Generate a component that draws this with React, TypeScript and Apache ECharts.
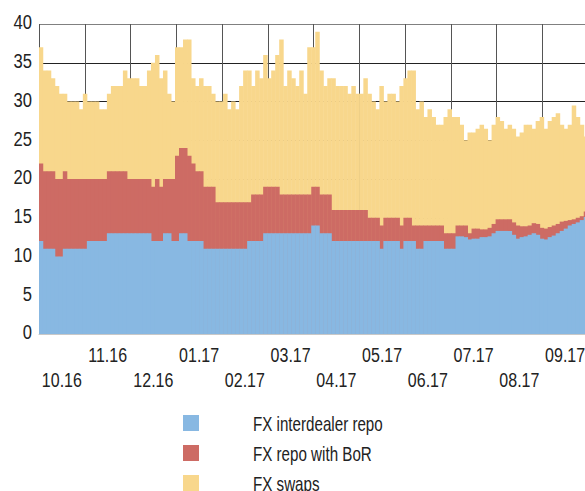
import React, { useEffect, useRef } from "react";
import * as echarts from "echarts";

// Month tick labels (one per month band)
const monthLabels = ["10.16", "11.16", "12.16", "01.17", "02.17", "03.17", "04.17", "05.17", "06.17", "07.17", "08.17", "09.17"];
// Y tick values
const yTicks = [0, 5, 10, 15, 20, 25, 30, 35, 40];

// Stack tops (level reached by each layer), ~every second business day
const swapsTop = [
  37, 34, 34, 33, 32, 31, 31, 30, 30, 30,
  29, 31, 30, 30, 30, 29, 29, 31, 32, 32,
  32, 34, 33, 33, 33, 32, 32, 34, 35, 36,
  33, 34, 31, 30, 37, 37, 38, 38, 33, 32,
  33, 32, 32, 31, 30, 30, 31, 29, 30, 29,
  32, 34, 34, 32, 34, 33, 36, 33, 34, 36,
  38, 32, 34, 33, 32, 34, 31, 37, 37, 39,
  34, 32, 33, 33, 32, 32, 32, 31, 32, 31,
  31, 33, 31, 30, 29, 32, 30, 31, 31, 30,
  32, 33, 34, 34, 29, 30, 28, 29, 28, 27,
  27, 28, 29, 28, 28, 27, 25, 26, 26, 26.5,
  27, 26.5, 25, 27, 28, 27.5, 26.5, 27, 26.5, 25.5,
  26, 27, 27, 26.5, 27.5, 28, 26.5, 27.5, 28, 28.5,
  27, 26.5, 27, 29.5, 28, 27, 25.5,
];

const borTop = [
  22, 21, 21, 21, 20, 20, 21, 20, 20, 20,
  20, 20, 20, 20, 20, 20, 20, 21, 21, 21,
  21, 21, 20, 20, 20, 20, 20, 20, 19, 20,
  19, 20, 20, 20, 23, 24, 24, 23, 22, 21,
  21, 19, 19, 19, 17, 17, 17, 17, 17, 17,
  17, 17, 17, 18, 18, 18, 19, 19, 19, 19,
  18, 18, 18, 18, 18, 18, 18, 18, 19, 19,
  18, 18, 18, 16, 16, 16, 16, 16, 16, 16,
  16, 16, 15, 15, 15, 14, 15, 15, 15, 15,
  14, 15, 15, 14, 14, 14, 14, 14, 14, 14,
  14, 13, 13, 13, 14, 14, 14, 13, 13.6, 13.6,
  13.5, 13.5, 13.7, 14.2, 14.8, 14.8, 14.8, 14.8, 14.4, 14,
  13.9, 13.9, 14, 14.3, 14.2, 13.7, 13.6, 13.8, 14, 14.2,
  14.5, 14.6, 14.7, 14.8, 15, 15.2, 15.8,
];

const interdealer = [
  12, 11, 11, 11, 10, 10, 11, 11, 11, 11,
  11, 11, 12, 12, 12, 12, 12, 13, 13, 13,
  13, 13, 13, 13, 13, 13, 13, 13, 12, 12,
  12, 13, 13, 12, 12, 13, 13, 12, 12, 12,
  12, 11, 11, 11, 11, 11, 11, 11, 11, 11,
  11, 11, 12, 12, 12, 12, 13, 13, 13, 13,
  13, 13, 13, 13, 13, 13, 13, 13, 14, 14,
  13, 13, 13, 12, 12, 12, 12, 12, 12, 12,
  12, 12, 12, 12, 12, 11, 12, 12, 12, 12,
  11, 12, 12, 12, 11, 11, 12, 12, 12, 12,
  12, 11, 11, 11, 12.6, 12.6, 12.5, 12.2, 12.3, 12.3,
  12.5, 12.5, 12.6, 13, 13.3, 13.3, 13.3, 13.3, 12.8, 12.3,
  12.5, 12.6, 12.8, 13, 12.8, 12.3, 12.2, 12.5, 12.7, 13,
  13.3, 13.6, 14, 14.2, 14.4, 14.7, 15.1,
];

const seriesNames = ["FX interdealer repo", "FX repo with BoR", "FX swaps"];
const dayKeys = interdealer.map((_, i) => String(i));

const FONT = '"Liberation Sans", Arial, sans-serif';
const BLUE = "#88b8e2";
const RED = "#cd6b64";
const YELLOW = "#f8d78c";
const seriesColors = [BLUE, RED, YELLOW];
const TEXT = "#222";

export default function App() {
  const ref = useRef<HTMLDivElement>(null);

  useEffect(() => {
    if (!ref.current) return;
    const chart = echarts.init(ref.current, null, { renderer: "svg" });
    const barCommon = {
      type: "bar",
      xAxisIndex: 1,
      barWidth: 4.5,
      barGap: "-100%",
      barCategoryGap: "0%",
      silent: true,
    };
    chart.setOption({
      animation: false,
      backgroundColor: "#ffffff",
      textStyle: { fontFamily: FONT },
      grid: {
        left: 39,
        top: 24,
        width: 549,
        height: 310,
        containLabel: false,
        outerBoundsMode: "none",
      },
      // Legend: swatch + condensed text (the reference uses a narrow typeface)
      graphic: seriesNames.map((name, k) => ({
        type: "group",
        x: 183,
        y: 415 + 30 * k,
        silent: true,
        children: [
          { type: "rect", shape: { x: 0, y: 0, width: 16, height: 16 }, style: { fill: seriesColors[k] } },
          {
            type: "text",
            x: 70,
            y: 9,
            scaleX: 0.74,
            style: {
              text: name,
              fill: TEXT,
              fontSize: 20.5,
              fontFamily: FONT,
              align: "left",
              verticalAlign: "middle",
            },
          },
        ],
      })),
      xAxis: [
        {
          type: "category",
          data: monthLabels,
          boundaryGap: true,
          position: "bottom",
          axisLine: { show: true, lineStyle: { color: "#c8c8c8", width: 1 } },
          axisTick: { show: false },
          splitLine: { show: true, lineStyle: { color: "#555", width: 1 } },
          axisLabel: { show: false },
          z: 0,
        },
        {
          type: "category",
          data: dayKeys,
          show: false,
          boundaryGap: true,
        },
      ],
      yAxis: {
        type: "value",
        min: 0,
        max: 40,
        interval: 5,
        axisLine: { show: false },
        axisTick: { show: false },
        axisLabel: { show: false },
        splitLine: {
          show: true,
          lineStyle: {
            color: ["#222", "#222", "#222", "#222", "#222", "#222", "#222", "#222", "#808080"],
            width: 1,
          },
        },
      },
      series: [
        { ...barCommon, name: seriesNames[2], data: swapsTop, itemStyle: { color: YELLOW }, z: 2 },
        { ...barCommon, name: seriesNames[1], data: borTop, itemStyle: { color: RED }, z: 3 },
        { ...barCommon, name: seriesNames[0], data: interdealer, itemStyle: { color: BLUE }, z: 4 },
        // Month tick labels, placed through the month axis, in two staggered rows
        {
          type: "custom",
          name: "monthLabels",
          xAxisIndex: 0,
          yAxisIndex: 0,
          clip: false,
          silent: true,
          z: 10,
          data: monthLabels.map((m, i) => [i, 0]),
          renderItem: (params: any, api: any) => {
            const i = api.value(0);
            const p = api.coord([i, 0]);
            return {
              type: "text",
              x: p[0],
              y: p[1] + (i % 2 === 0 ? 46.5 : 21),
              scaleX: 0.82,
              style: {
                text: monthLabels[i],
                fill: TEXT,
                fontSize: 19.5,
                fontFamily: FONT,
                align: "center",
                verticalAlign: "middle",
              },
            };
          },
        },
        // Y tick labels, placed through the value axis
        {
          type: "custom",
          name: "yLabels",
          xAxisIndex: 0,
          yAxisIndex: 0,
          clip: false,
          silent: true,
          z: 10,
          data: yTicks.map((v) => [0, v]),
          renderItem: (params: any, api: any) => {
            const v = api.value(1);
            const p = api.coord([0, v]);
            return {
              type: "text",
              x: params.coordSys.x - 7,
              y: p[1] - 1,
              scaleX: 0.85,
              style: {
                text: String(v),
                fill: TEXT,
                fontSize: 19.5,
                fontFamily: FONT,
                align: "right",
                verticalAlign: "middle",
              },
            };
          },
        },
      ],
    });
    return () => chart.dispose();
  }, []);

  return (
    <div style={{ position: "absolute", left: 0, top: 0, width: 585, height: 491, overflow: "hidden" }}>
      <div ref={ref} style={{ width: 585, height: 540 }} />
    </div>
  );
}
